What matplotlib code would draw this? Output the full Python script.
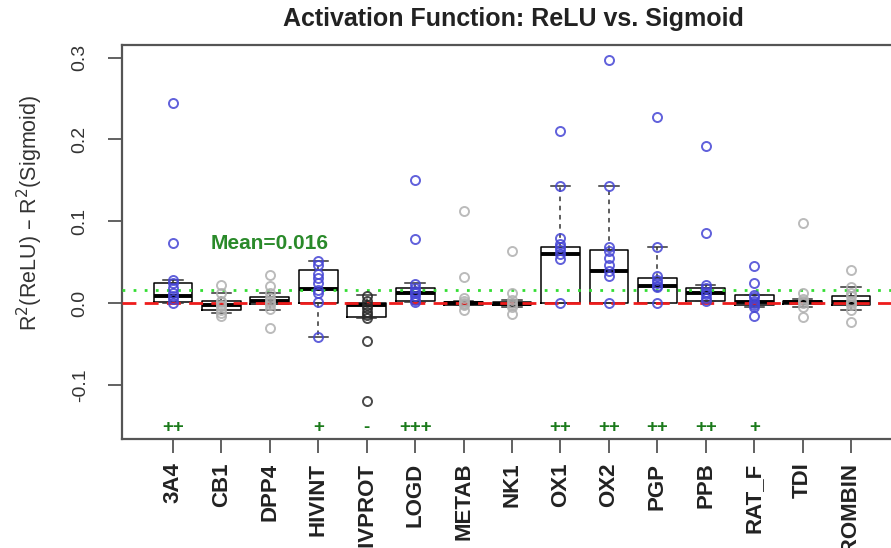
import matplotlib
matplotlib.use("Agg")
import matplotlib.pyplot as plt

plt.rcParams['font.family'] = ['Liberation Sans', 'DejaVu Sans']

labels = ["3A4", "CB1", "DPP4", "HIVINT", "HIVPROT", "LOGD", "METAB", "NK1",
          "OX1", "OX2", "PGP", "PPB", "RAT_F", "TDI", "THROMBIN"]

# per-dataset differences R2(ReLU) - R2(Sigmoid)
diffs = [
    [0.245, 0.073, 0.028, 0.024, 0.018, 0.012, 0.008, 0.005, 0.0],
    [0.022, 0.012, 0.003, 0.001, -0.002, -0.004, -0.008, -0.012, -0.016],
    [0.034, 0.021, 0.012, 0.006, 0.002, 0.0, -0.002, -0.007, -0.030],
    [0.051, 0.046, 0.036, 0.030, 0.024, 0.016, 0.012, 0.001, -0.042],
    [0.008, 0.003, -0.002, -0.006, -0.011, -0.015, -0.018, -0.047, -0.120],
    [0.150, 0.078, 0.023, 0.018, 0.015, 0.012, 0.008, 0.004, 0.001],
    [0.112, 0.032, 0.006, 0.002, 0.0, -0.001, -0.003, -0.009],
    [0.063, 0.012, 0.004, 0.0, -0.002, -0.005, -0.013],
    [0.210, 0.143, 0.080, 0.072, 0.068, 0.065, 0.060, 0.054, 0.0],
    [0.297, 0.143, 0.068, 0.063, 0.055, 0.046, 0.039, 0.033, 0.0],
    [0.228, 0.068, 0.033, 0.028, 0.024, 0.021, 0.019, 0.0],
    [0.192, 0.085, 0.022, 0.018, 0.014, 0.011, 0.006, 0.002],
    [0.045, 0.024, 0.010, 0.007, 0.003, 0.0, -0.002, -0.005, -0.016],
    [0.098, 0.012, 0.005, 0.002, 0.0, -0.005, -0.017],
    [0.040, 0.020, 0.012, 0.008, 0.002, 0.0, -0.003, -0.008, -0.023],
]

q1 = [0.001, -0.008, -0.001, 0.0, -0.017, 0.003, -0.002, -0.003,
      0.0, 0.0, 0.0, 0.002, -0.002, -0.001, -0.003]
med = [0.009, -0.003, 0.002, 0.017, -0.002, 0.012, 0.0, -0.001,
       0.060, 0.039, 0.021, 0.012, 0.001, 0.001, 0.001]
q3 = [0.024, 0.003, 0.007, 0.040, 0.0, 0.018, 0.001, 0.001,
      0.069, 0.065, 0.031, 0.018, 0.010, 0.003, 0.009]
whis_lo = [0.0, -0.012, -0.009, -0.042, -0.018, 0.001, -0.003, -0.005,
           0.0, 0.0, 0.0, 0.002, -0.005, -0.005, -0.008]
whis_hi = [0.028, 0.012, 0.012, 0.051, 0.010, 0.024, 0.002, 0.004,
           0.143, 0.143, 0.068, 0.022, 0.010, 0.005, 0.020]

signif = ["++", "", "", "+", "-", "+++", "", "", "++", "++", "++", "++", "+", "", ""]
mean_diff = 0.016

fig = plt.figure(figsize=(8.91, 5.48), dpi=100)
ax = fig.add_axes([0.1369, 0.1989, 0.8754, 0.719])

pos = list(range(1, len(labels) + 1))
stats = []
for i in range(len(labels)):
    stats.append(dict(q1=q1[i], med=med[i], q3=q3[i],
                      whislo=whis_lo[i], whishi=whis_hi[i], fliers=[]))

ax.bxp(stats, positions=pos, widths=0.8, showfliers=False,
       boxprops=dict(color='black', linewidth=1.1),
       medianprops=dict(color='black', linewidth=2.8),
       whiskerprops=dict(color='#333333', linewidth=1.1, linestyle=(0, (3, 3))),
       capprops=dict(color='#333333', linewidth=1.1))

ax.axhline(0, color='#ee1c1c', linestyle=(0, (5, 3)), linewidth=2, zorder=3)
ax.axhline(mean_diff, color='#33dd33', linestyle=(0, (1, 3)), linewidth=2, zorder=3)

for i, vals in enumerate(diffs):
    if signif[i].startswith('+'):
        c = '#4545d5'
    elif signif[i] == '-':
        c = '#2a2a2a'
    else:
        c = '#b0b0b0'
    ax.plot([pos[i]] * len(vals), vals, 'o', mfc='none', mec=c, mew=1.4,
            ms=6.5, alpha=0.85, zorder=4)
    if signif[i]:
        ax.text(pos[i], -0.152, signif[i], color='#1b7a1b', fontsize=13.5,
                fontweight='bold', ha='center', va='center')

ax.text(3, 0.073, "Mean=" + str(mean_diff), color='#2a8a2a', fontsize=15,
        fontweight='bold', ha='center', va='center')

ax.set_xlim(-0.053, 16.05)
ax.set_ylim(-0.1664, 0.3156)
ax.set_yticks([-0.1, 0.0, 0.1, 0.2, 0.3])
ax.set_yticklabels(['-0.1', '0.0', '0.1', '0.2', '0.3'], rotation=90, va='center',
                   fontsize=14, color='#333333')
ax.set_xticks(pos)
ax.set_xticklabels(labels, rotation=90, fontsize=16, fontweight='bold', color='#222222')
ax.tick_params(axis='both', direction='out', length=10, width=1.3, color='#555555')
ax.tick_params(axis='y', pad=14)
ax.tick_params(axis='x', pad=7)
for sp in ax.spines.values():
    sp.set_color('#555555')
    sp.set_linewidth(1.6)

ax.set_title("Activation Function: ReLU vs. Sigmoid", fontsize=18, fontweight='bold',
             color='#222222', pad=14, x=(513 - 122) / 780)
fig.text(30 / 891, 1 - 213 / 548, r"R$^2$(ReLU) – R$^2$(Sigmoid)", rotation=90,
         ha='center', va='center', fontsize=15.5, color='#333333')

fig.savefig("out.png", dpi=100)
